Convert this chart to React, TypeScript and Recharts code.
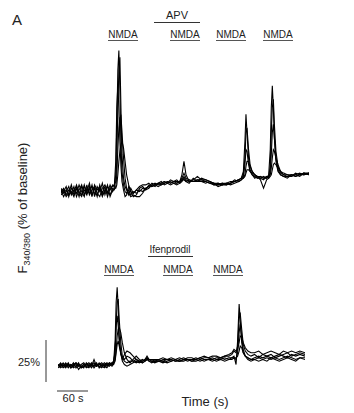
import React from "react";
import { LineChart, Line, XAxis, YAxis } from "recharts";

// ---------- Top panel (NMDA / APV) ----------
const topTime = [0,5,10,15,20,25,30,35,40,45,50,55,60,65,70,75,80,85,90,95,100,
  103,106,108,110,112,114,116,118,121,124,127,131,135,140,
  146,152,158,164,170,176,182,188,194,200,206,212,218,224,230,
  234,238,242,248,
  256,264,272,280,288,296,304,312,320,328,336,344,
  349,353,356,358,360,363,366,370,375,380,386,392,398,
  402,405,407,409,411,413,416,420,425,431,
  438,446,454,462,470,480];

const topCell1 = [100,102,98,101,99,103,97,101,104,98,102,99,104,97,103,100,105,98,103,101,104,
  103,110,140,172,184,160,128,112,104,100,99,101,98,100,
  99,101,100,102,103,104,103,105,104,105,106,105,106,105,106,
  110,118,110,106,
  106,107,106,106,105,105,104,105,104,105,106,107,
  108,112,130,146,135,120,113,110,109,108,108,109,108,
  110,125,150,163,150,132,118,112,110,109,
  109,110,109,110,111,110];
const topCell2 = [98,100,103,97,102,100,104,99,97,103,100,105,98,102,97,104,99,103,97,102,103,
  104,106,118,150,172,180,150,122,108,103,101,98,102,99,
  101,100,102,101,102,104,105,104,105,106,105,106,105,104,105,
  107,109,107,106,
  107,109,107,106,105,104,105,104,105,105,106,107,
  108,110,120,135,138,125,116,112,110,109,108,107,109,
  109,115,135,150,155,140,124,115,111,110,
  110,109,111,110,110,111];
const topCell3 = [101,97,100,103,98,101,99,104,100,97,104,98,101,103,99,97,102,104,100,98,102,
  102,118,150,163,150,130,115,106,101,97,98,103,100,97,
  98,102,103,101,104,103,104,105,106,104,105,107,106,106,106,
  108,111,108,107,
  106,106,108,107,106,104,104,105,105,104,105,106,
  107,109,116,125,124,116,112,110,108,109,107,102,107,
  108,112,122,135,140,132,120,113,110,109,
  108,110,110,109,111,110];
const topCell4 = [99,101,97,99,104,98,102,97,103,101,98,103,97,104,101,103,98,100,104,97,101,
  101,103,110,125,138,144,145,136,120,108,102,99,97,98,
  97,97,99,102,103,105,104,103,104,105,106,105,106,107,105,
  106,108,106,105,
  108,106,106,105,106,105,103,104,104,105,107,106,
  107,108,110,115,118,118,115,112,110,108,109,108,108,
  109,110,114,120,125,124,120,116,112,110,
  109,109,110,111,110,111];
const topCell5 = [102,99,101,98,100,97,103,100,98,104,99,101,103,99,98,102,97,101,99,104,100,
  102,102,104,110,118,124,128,130,126,118,110,104,100,99,
  101,103,104,104,105,103,104,105,105,106,105,104,105,105,106,
  107,107,106,107,
  106,107,107,107,106,105,105,104,105,106,106,107,
  108,108,109,111,113,113,112,111,110,109,109,108,109,
  108,109,110,113,116,117,116,114,112,111,
  110,110,109,110,111,111];

// ---------- Bottom panel (NMDA / Ifenprodil) ----------
const bottomTime = [0,5,10,15,20,25,30,35,40,45,50,55,60,65,70,75,80,85,90,95,100,105,
  108,111,113,115,117,119,122,125,129,134,140,
  146,152,158,164,169,173,177,182,188,
  196,204,212,220,228,236,244,252,260,268,276,284,292,300,308,316,324,332,
  338,342,346,349,352,354,357,360,364,369,375,
  382,390,398,406,414,422,430,438,446,454,462,470,480];

const bottomCell1 = [100,101,99,100,102,99,100,101,98,100,101,99,100,102,99,101,100,99,101,100,102,101,
  102,115,138,147,135,118,108,103,101,100,101,
  102,103,102,103,104,106,104,103,103,
  104,103,104,103,104,103,104,104,103,104,105,104,104,105,104,105,104,105,
  105,106,101,115,137,128,114,108,106,105,104,
  105,106,105,106,105,106,107,106,105,107,106,107,106];
const bottomCell2 = [101,99,100,102,100,101,99,100,102,99,100,101,102,100,104,100,101,100,102,101,100,102,
  103,108,125,138,140,128,114,106,104,106,105,
  103,102,103,104,103,104,104,104,103,
  103,104,104,104,103,104,105,104,104,105,104,105,105,104,105,105,106,106,
  107,109,108,112,128,132,122,113,109,107,106,
  107,105,107,106,107,105,106,107,108,106,107,108,107];
const bottomCell3 = [99,100,101,99,101,100,102,99,101,100,99,102,100,101,100,102,99,101,100,99,101,102,
  101,110,124,130,124,114,107,104,107,109,108,
  106,104,103,102,103,105,103,102,103,
  103,102,103,104,103,103,103,104,103,103,104,103,104,104,103,104,103,104,
  104,105,104,108,120,125,117,110,106,104,103,
  104,103,104,103,105,104,103,104,105,104,103,105,104];
const bottomCell4 = [100,102,100,101,99,101,100,102,100,101,102,100,99,101,102,100,101,102,100,102,101,100,
  102,104,110,118,122,123,120,114,108,104,102,
  104,106,104,103,104,105,104,104,104,
  104,105,104,105,104,105,104,105,105,104,105,106,105,106,106,105,106,107,
  108,110,109,110,114,118,117,114,111,109,108,
  108,109,107,108,109,108,107,109,108,109,108,109,108];
const bottomCell5 = [101,100,102,100,101,99,101,102,100,99,101,100,101,99,101,100,102,100,99,101,102,101,
  101,103,108,113,115,112,108,105,103,102,103,
  103,104,103,102,103,104,103,103,102,
  103,103,102,103,104,103,104,103,104,104,103,104,104,103,104,104,105,104,
  105,105,105,106,109,112,111,108,106,105,104,
  104,105,104,105,104,105,104,105,106,105,104,105,105];

// ---------- Annotation labels ----------
const topDrugLabel = "APV";
const topStimLabels = ["NMDA", "NMDA", "NMDA", "NMDA"];
const bottomDrugLabel = "Ifenprodil";
const bottomStimLabels = ["NMDA", "NMDA", "NMDA"];
const panelLabel = "A";
const yScaleLabel = "25%";
const xScaleLabel = "60 s";
const xTitle = "Time (s)";

const topData = topTime.map((t, i) => ({
  t, c1: topCell1[i], c2: topCell2[i], c3: topCell3[i], c4: topCell4[i], c5: topCell5[i],
}));
const bottomData = bottomTime.map((t, i) => ({
  t, c1: bottomCell1[i], c2: bottomCell2[i], c3: bottomCell3[i], c4: bottomCell4[i], c5: bottomCell5[i],
}));

const keys = ["c1", "c2", "c3", "c4", "c5"];
const FONT = '"Liberation Sans", Arial, Helvetica, sans-serif';
const TXT = "#222";

function Traces({ data, domain, width }: { data: any[]; domain: [number, number]; width: number }) {
  return (
    <LineChart width={width} height={168} data={data} margin={{ top: 0, right: 0, bottom: 0, left: 0 }}>
      <XAxis dataKey="t" type="number" domain={[0, 480]} hide />
      <YAxis type="number" domain={domain} hide allowDataOverflow />
      {keys.map((k) => (
        <Line key={k} dataKey={k} type="linear" stroke="#000" strokeWidth={1.1} dot={false}
          isAnimationActive={false} />
      ))}
    </LineChart>
  );
}

const topStimX = [123, 185, 231, 278];
const bottomStimX = [119, 178, 228];

export default function App() {
  return (
    <div style={{ position: "absolute", left: 0, top: 0, width: 354, height: 413, background: "#fff", overflow: "hidden" }}>
      <div style={{ position: "absolute", left: 61, top: 32 }}>
        <Traces data={topData} domain={[95, 195]} width={248} />
      </div>
      <div style={{ position: "absolute", left: 58, top: 215 }}>
        <Traces data={bottomData} domain={[90, 190]} width={247} />
      </div>
      <svg width={354} height={413} style={{ position: "absolute", left: 0, top: 0, pointerEvents: "none" }}
        fontFamily={FONT} fill={TXT}>
        <text x={12} y={25} fontSize={15}>{panelLabel}</text>

        <text x={177} y={19} fontSize={11} textAnchor="middle">{topDrugLabel}</text>
        <line x1={154} x2={200} y1={22.5} y2={22.5} stroke="#333" strokeWidth={1} />
        {topStimLabels.map((s, i) => (
          <g key={"ts" + i}>
            <text x={topStimX[i]} y={38} fontSize={10} textAnchor="middle">{s}</text>
            <line x1={topStimX[i] - 15} x2={topStimX[i] + 15} y1={40.5} y2={40.5} stroke="#555" strokeWidth={1} />
          </g>
        ))}

        <text x={170} y={253} fontSize={10} textAnchor="middle">{bottomDrugLabel}</text>
        <line x1={148} x2={193} y1={256.5} y2={256.5} stroke="#333" strokeWidth={1} />
        {bottomStimLabels.map((s, i) => (
          <g key={"bs" + i}>
            <text x={bottomStimX[i]} y={273} fontSize={10} textAnchor="middle">{s}</text>
            <line x1={bottomStimX[i] - 15} x2={bottomStimX[i] + 15} y1={275.5} y2={275.5} stroke="#555" strokeWidth={1} />
          </g>
        ))}

        <text transform="translate(27,208) rotate(-90)" fontSize={13} textAnchor="middle">
          F<tspan fontSize={9} dy={3}>340/380</tspan><tspan dy={-3}> (% of baseline)</tspan>
        </text>

        <line x1={46} x2={46} y1={340} y2={382} stroke="#333" strokeWidth={1} />
        <text x={40} y={366} fontSize={11} textAnchor="end">{yScaleLabel}</text>
        <line x1={57} x2={88} y1={391} y2={391} stroke="#333" strokeWidth={1} />
        <text x={73} y={402} fontSize={11} textAnchor="middle">{xScaleLabel}</text>
        <text x={205} y={406} fontSize={13} textAnchor="middle">{xTitle}</text>
      </svg>
    </div>
  );
}
